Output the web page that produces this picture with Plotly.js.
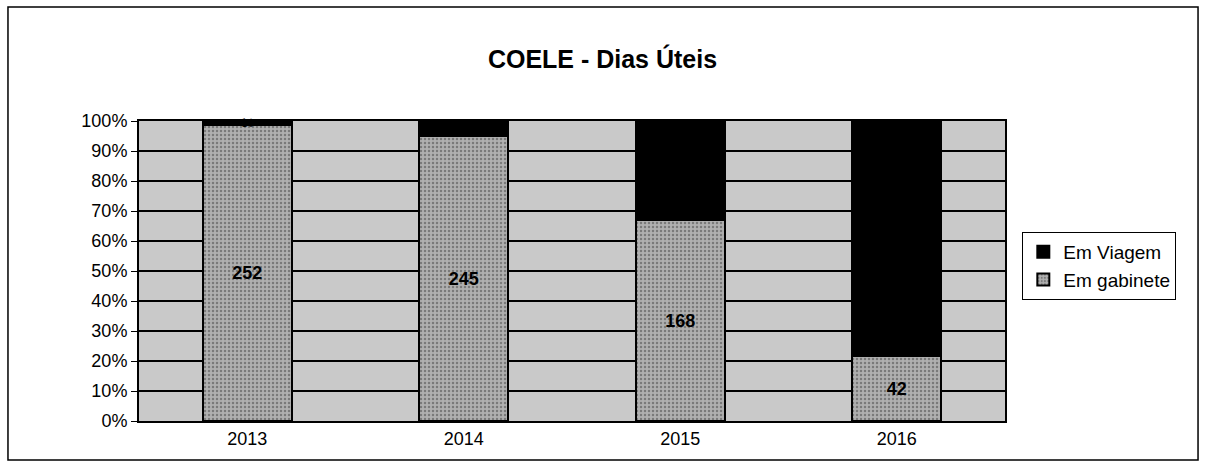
<!DOCTYPE html>
<html>
<head>
<meta charset="utf-8">
<script src="https://cdn.plot.ly/plotly-3.0.1.min.js"></script>
<style>html,body{margin:0;padding:0;background:#fff;}#chart{width:1205px;height:473px;}</style>
</head>
<body>
<div id="chart"></div>
<script>
var years = ['2013', '2014', '2015', '2016'];
var emGabinete = [252, 245, 168, 42];
var emViagem = [3, 13, 83, 152];
var seriesNames = ['Em Viagem', 'Em gabinete'];
var titleText = 'COELE - Dias Úteis';

var F = 'Liberation Sans, Arial, sans-serif';

var traceGab = {
  type: 'bar', name: seriesNames[1], x: years, y: emGabinete,
  text: emGabinete.map(function (v) { return '<b>' + v + '</b>'; }),
  textposition: 'inside', insidetextanchor: 'middle', constraintext: 'none',
  textfont: {family: F, size: 18, color: '#000'},
  marker: {color: '#a6a6a6', line: {color: '#000', width: 2},
           pattern: {shape: '.', bgcolor: '#b0b0b0', fgcolor: '#7a7a7a', size: 4, solidity: 0.3}},
  hoverinfo: 'skip'
};
var traceVia = {
  type: 'bar', name: seriesNames[0], x: years, y: emViagem,
  text: emViagem.map(function (v) { return '<b>' + v + '</b>'; }),
  textposition: 'inside', insidetextanchor: 'middle', constraintext: 'none', cliponaxis: false,
  textfont: {family: F, size: 18, color: '#000'},
  marker: {color: '#000', line: {color: '#000', width: 2}},
  hoverinfo: 'skip'
};

var layout = {
  width: 1205, height: 473,
  margin: {l: 139, r: 200, t: 121, b: 52},
  paper_bgcolor: '#fff', plot_bgcolor: '#c9c9c9',
  barmode: 'stack', barnorm: 'percent', bargap: 0.59,
  title: {text: '<b>' + titleText + '</b>', font: {family: F, size: 25, color: '#000'},
          x: 0.5, xanchor: 'center', y: 0.875, yanchor: 'middle'},
  font: {family: F, color: '#000'},
  xaxis: {type: 'category', showgrid: false, zeroline: false, showline: true, linecolor: '#000', linewidth: 2,
          mirror: true, ticks: '', tickfont: {size: 18}, ticklabelstandoff: 0},
  yaxis: {range: [0, 100], dtick: 10, ticksuffix: '%', showgrid: true, gridcolor: '#000', gridwidth: 2,
          zeroline: false, showline: true, linecolor: '#000', linewidth: 2, mirror: true,
          ticks: 'outside', ticklen: 6, tickcolor: '#000', tickfont: {size: 18}},
  legend: {x: 1.02, xanchor: 'left', y: 0.517, yanchor: 'middle', bordercolor: '#000', borderwidth: 1,
           bgcolor: '#fff', font: {size: 19}, traceorder: 'reversed', tracegroupgap: 4},
  shapes: [{type: 'rect', xref: 'paper', yref: 'paper', x0: -0.1513, x1: 1.2229, y0: -0.13, y1: 1.38,
            line: {color: '#000', width: 1.5}, fillcolor: 'rgba(0,0,0,0)', layer: 'below'}],
  showlegend: true
};

Plotly.newPlot('chart', [traceGab, traceVia], layout, {staticPlot: true, displayModeBar: false});
</script>
</body>
</html>
